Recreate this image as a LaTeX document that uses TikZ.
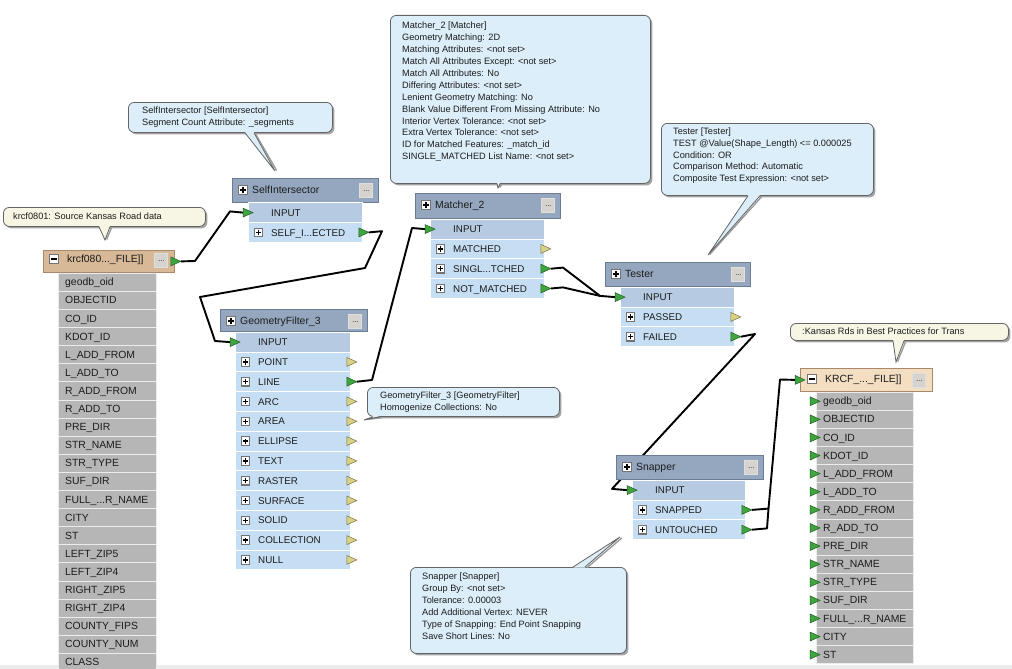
\documentclass[tikz,border=0pt]{standalone}
\usepackage{fontspec}
\setmainfont{Liberation Sans}
\usetikzlibrary{calc,shadows}
\pgfdeclarelayer{bg}
\pgfsetlayers{bg,main}
\definecolor{hdrblue}{HTML}{95A7BF}
\definecolor{hdrline}{HTML}{6C7C93}
\definecolor{inrow}{HTML}{B6CBE2}
\definecolor{outrow}{HTML}{C6DEF3}
\definecolor{attrgray}{HTML}{B6B6B6}
\definecolor{srctan}{HTML}{D7B897}
\definecolor{srcline}{HTML}{A88A6A}
\definecolor{dsttan}{HTML}{F3DEC2}
\definecolor{callblue}{HTML}{DCEEF9}
\definecolor{callbeige}{HTML}{F7F5E3}
\definecolor{callline}{HTML}{646464}
\definecolor{shadowgray}{HTML}{9A9A9A}
\definecolor{arrgreen}{HTML}{3FA53F}
\definecolor{arryellow}{HTML}{D9D184}
\definecolor{btngray}{HTML}{D6D3CE}
\definecolor{txt}{HTML}{1C1C1C}
\definecolor{stripgray}{HTML}{ECECEC}
\newcommand\tdots{...}
\newcommand\portarrow[2]{\filldraw[fill=#2, draw=#2!55!black, line width=0.5pt] ($#1+(-5,-4.5)$) -- ($#1+(5,0)$) -- ($#1+(-5,4.5)$) -- cycle;}
\tikzset{
  hdr/.style={draw=hdrline, line width=0.8pt, fill=hdrblue, anchor=north west, inner sep=0pt},
  prow/.style={draw=white, line width=0.8pt, anchor=north west, inner sep=0pt, minimum height=19.8pt},
  arow/.style={draw=white!85!gray, line width=0.8pt, fill=attrgray, anchor=north west, inner sep=0pt, minimum height=18.1pt},
  plabel/.style={anchor=base west, inner sep=0pt, font=\fontsize{9.8}{11}\selectfont, text=txt},
  alabel/.style={anchor=base west, inner sep=0pt, font=\fontsize{10.4}{11}\selectfont, text=txt},
  title/.style={anchor=base west, inner sep=0pt, font=\fontsize{10.4}{12}\selectfont, text=txt},
  pbox/.style={draw=black!55, line width=1.1pt, fill=white, minimum size=8.5pt, inner sep=0pt,
    path picture={\draw[black, line width=1.5pt] ([xshift=-2.6pt]path picture bounding box.center) -- ([xshift=2.6pt]path picture bounding box.center) ([yshift=-2.6pt]path picture bounding box.center) -- ([yshift=2.6pt]path picture bounding box.center);}},
  mbox/.style={draw=black!55, line width=1.1pt, fill=white, minimum size=8.5pt, inner sep=0pt,
    path picture={\draw[black, line width=1.5pt] ([xshift=-2.6pt]path picture bounding box.center) -- ([xshift=2.6pt]path picture bounding box.center);}},
  btn/.style={draw=white!75!gray, line width=0.8pt, fill=btngray, minimum width=13pt, minimum height=14pt, inner sep=0pt, font=\fontsize{7}{7}\selectfont},
  callbox/.style={draw=callline, line width=0.8pt, rounded corners=6pt, anchor=north west, inner sep=0pt,
    drop shadow={shadow xshift=2pt, shadow yshift=-2pt, fill=black!45, opacity=0.8}},
  ctext/.style={anchor=north west, inner sep=0pt, align=left, font=\fontsize{9.2}{11.9}\selectfont, text=txt},
  wire/.style={line width=1.9pt, black, line join=round},
}
% transformer: name, NW, header width, header height, row width, row x offset, title, ports
\newcommand\fmeXform[8]{%
  \node[hdr, minimum width=#3pt, minimum height=#4pt] (#1) at #2 {};
  \node[pbox] (#1-p) at ($(#1.north west)+(11,12)$) {};
  \node[title] (#1-t) at ($(#1.north west)+(20,15.8)$) {#7};
  \node[btn] (#1-b) at ($(#1.north east)+(-12.5,12)$) {\raisebox{-2.5pt}{\tdots}};
  \foreach \lab/\acol [count=\i] in {#8} {%
    \ifnum\i=1 \def\rowfill{inrow}\else\def\rowfill{outrow}\fi
    \node[prow, fill=\rowfill, minimum width=#5pt] (#1-\i) at ($(#1.south west)+(#6,{(\i-1)*19.8})$) {};
    \node[plabel] (#1-\i-t) at ($(#1-\i.west)+(23,3.6)$) {\lab};
    \ifnum\i=1
      \portarrow{(#1-\i.west)}{\acol}
    \else
      \node[pbox] (#1-\i-p) at ($(#1-\i.west)+(10.5,0)$) {};
      \portarrow{([xshift=1pt]#1-\i.east)}{\acol}
    \fi
  }%
}
% callout with pointer at the bottom: name, fill, NW, width, height, base-left, base-right (offsets from left), tip
\newcommand\fmeCallout[8]{%
  \node[callbox, fill=#2, minimum width=#4pt, minimum height=#5pt] (#1) at #3 {};
  \draw[shadowgray, line width=1.4pt] ($(#1.south west)+(#7+1.5,1)$) -- ($#8+(1.6,-0.5)$);
  \fill[#2] ($(#1.south west)+(#6,-0.7)$) -- #8 -- ($(#1.south west)+(#7,-0.7)$) -- cycle;
  \draw[callline, line width=0.8pt] ($(#1.south west)+(#6,0)$) -- #8 -- ($(#1.south west)+(#7,0)$);
}
% callout with pointer at the top
\newcommand\fmeCalloutTop[8]{%
  \node[callbox, fill=#2, minimum width=#4pt, minimum height=#5pt] (#1) at #3 {};
  \draw[shadowgray, line width=1.4pt] ($(#1.north west)+(#7+2,0.6)$) -- ($#8+(1.8,1)$);
  \fill[#2] ($(#1.north west)+(#6,0.7)$) -- #8 -- ($(#1.north west)+(#7,0.7)$) -- cycle;
  \draw[callline, line width=0.8pt] ($(#1.north west)+(#6,0)$) -- #8 -- ($(#1.north west)+(#7,0)$);
}
\begin{document}
\begin{tikzpicture}[x=1pt,y=-1pt]
\useasboundingbox (0,0) rectangle (1012,669);
\begin{pgfonlayer}{bg}
\fill[white] (0,0) rectangle (1012,669);
\fill[stripgray] (0,665) rectangle (1012,669);
\end{pgfonlayer}
\clip (0,0) rectangle (1012,669);

% ---------- callouts ----------
\fmeCallout{c-src}{callbeige}{(3,207)}{202}{19}{96}{107}{(105,240)}
\node[ctext] (c-src-t) at (13,211) {\strut krcf0801: Source Kansas Road data};

\fmeCallout{c-si}{callblue}{(128,102)}{204}{30}{117}{126}{(275,171)}
\node[ctext] (c-si-t) at (142,105) {\strut SelfIntersector [SelfIntersector]\\Segment Count Attribute: \_segments};

\fmeCallout{c-m}{callblue}{(390,15)}{260}{168}{107}{110}{(498,188)}
\node[ctext] (c-m-t) at (402,20.3) {\strut Matcher\_2 [Matcher]\\
Geometry Matching: 2D\\
Matching Attributes: <not set>\\
Match All Attributes Except: <not set>\\
Match All Attributes: No\\
Differing Attributes: <not set>\\
Lenient Geometry Matching: No\\
Blank Value Different From Missing Attribute: No\\
Interior Vertex Tolerance: <not set>\\
Extra Vertex Tolerance: <not set>\\
ID for Matched Features: \_match\_id\\
SINGLE\_MATCHED List Name: <not set>};

\fmeCallout{c-t}{callblue}{(661,123)}{212}{72}{87}{99}{(708,255)}
\node[ctext] (c-t-t) at (673,125.7) {\strut Tester [Tester]\\
TEST @Value(Shape\_Length) <= 0.000025\\
Condition: OR\\
Comparison Method: Automatic\\
Composite Test Expression: <not set>};

\fmeCallout{c-gf}{callblue}{(367,387)}{192}{29}{6}{13}{(364,420)}
\node[ctext] (c-gf-t) at (380,390) {\strut GeometryFilter\_3 [GeometryFilter]\\Homogenize Collections: No};

\fmeCalloutTop{c-snap}{callblue}{(410,567)}{216}{86}{163}{175}{(620,537)}
\node[ctext] (c-snap-t) at (422,571) {\strut Snapper [Snapper]\\
Group By: <not set>\\
Tolerance: 0.00003\\
Add Additional Vertex: NEVER\\
Type of Snapping: End Point Snapping\\
Save Short Lines: No};

\fmeCallout{c-dst}{callbeige}{(790,323)}{218}{17}{103}{114}{(896,362)}
\node[ctext] (c-dst-t) at (802,326) {\strut :Kansas Rds in Best Practices for Trans};

% ---------- source ----------
\node[hdr, fill=srctan, draw=srcline, minimum width=131pt, minimum height=22pt] (src) at (43,250) {};
\node[mbox] (src-p) at ($(src.north west)+(11,9)$) {};
\node[title] (src-t) at ($(src.north west)+(24,12.5)$) {krcf080\tdots\_FILE]]};
\node[btn] (src-b) at ($(src.north east)+(-13.5,10)$) {\raisebox{-2.5pt}{\tdots}};
\portarrow{([xshift=1pt]src.east)}{arrgreen}
\foreach \lab [count=\i] in {geodb\_oid, OBJECTID, CO\_ID, KDOT\_ID, L\_ADD\_FROM, L\_ADD\_TO, R\_ADD\_FROM, R\_ADD\_TO, PRE\_DIR, STR\_NAME, STR\_TYPE, SUF\_DIR, FULL\_\tdots R\_NAME, CITY, ST, LEFT\_ZIP5, LEFT\_ZIP4, RIGHT\_ZIP5, RIGHT\_ZIP4, COUNTY\_FIPS, COUNTY\_NUM, CLASS} {
  \node[arow, minimum width=98pt] (src-\i) at ($(src.south west)+(15,{(\i-1)*18.1})$) {};
  \node[alabel] (src-\i-t) at ($(src-\i.west)+(7,3.6)$) {\lab};
}

% ---------- transformers ----------
\fmeXform{si}{(232,178)}{146}{23.5}{114}{16}{SelfIntersector}{INPUT/arrgreen, SELF\_I\tdots ECTED/arrgreen}
\fmeXform{gf}{(220,309)}{147}{22}{115}{15}{GeometryFilter\_3}{INPUT/arrgreen, POINT/arryellow, LINE/arrgreen, ARC/arryellow, AREA/arryellow, ELLIPSE/arryellow, TEXT/arryellow, RASTER/arryellow, SURFACE/arryellow, SOLID/arryellow, COLLECTION/arryellow, NULL/arryellow}
\fmeXform{m}{(415,193)}{145}{25}{114}{15}{Matcher\_2}{INPUT/arrgreen, MATCHED/arryellow, SINGL\tdots TCHED/arrgreen, NOT\_MATCHED/arrgreen}
\fmeXform{t}{(605,262)}{145}{24}{114}{15}{Tester}{INPUT/arrgreen, PASSED/arryellow, FAILED/arrgreen}
\fmeXform{s}{(616,455)}{147}{24}{113}{16}{Snapper}{INPUT/arrgreen, SNAPPED/arrgreen, UNTOUCHED/arrgreen}

% ---------- destination ----------
\node[hdr, fill=dsttan, draw=srcline, minimum width=132pt, minimum height=23pt] (dst) at (800,368) {};
\node[mbox] (dst-p) at ($(dst.north west)+(12,11)$) {};
\node[title] (dst-t) at ($(dst.north west)+(25,14)$) {KRCF\_\tdots\_FILE]]};
\node[btn] (dst-b) at ($(dst.north east)+(-13.5,12.5)$) {\raisebox{-2.5pt}{\tdots}};
\portarrow{(dst.west)}{arrgreen}
\foreach \lab [count=\i] in {geodb\_oid, OBJECTID, CO\_ID, KDOT\_ID, L\_ADD\_FROM, L\_ADD\_TO, R\_ADD\_FROM, R\_ADD\_TO, PRE\_DIR, STR\_NAME, STR\_TYPE, SUF\_DIR, FULL\_\tdots R\_NAME, CITY, ST} {
  \node[arow, minimum width=97pt] (dst-\i) at ($(dst.south west)+(16,{(\i-1)*18.1})$) {};
  \node[alabel] (dst-\i-t) at ($(dst-\i.west)+(7,3.6)$) {\lab};
  \portarrow{([xshift=-1pt]dst-\i.west)}{arrgreen}
}

% ---------- connectors ----------
\begin{pgfonlayer}{bg}
\draw[wire] ([xshift=6pt]src.east) -- (195,261) -- (230,211.4) -- ([xshift=-5pt]si-1.west);
\draw[wire] ([xshift=6pt]si-2.east) -- (382,231.2) -- (365,268) -- (200,297) -- (215,341) -- ([xshift=-5pt]gf-1.west);
\draw[wire] ([xshift=6pt]gf-3.east) -- (372,380) -- (412,228) -- ([xshift=-5pt]m-1.west);
\draw[wire] ([xshift=6pt]m-3.east) -- (563,267.6) -- (600,295.9) -- ([xshift=-5pt]t-1.west);
\draw[wire] ([xshift=6pt]m-4.east) -- (563,287.4) -- (600,295.9);
\draw[wire] ([xshift=6pt]t-3.east) -- (755,334) -- (612,488.9) -- ([xshift=-5pt]s-1.west);
\draw[wire] ([xshift=6pt]s-2.east) -- (768.5,508.6) -- (780,379.5) -- ([xshift=-5pt]dst.west);
\draw[wire] ([xshift=6pt]s-3.east) -- (767,528.4) -- (768.5,508.6);
\end{pgfonlayer}
\end{tikzpicture}
\end{document}
